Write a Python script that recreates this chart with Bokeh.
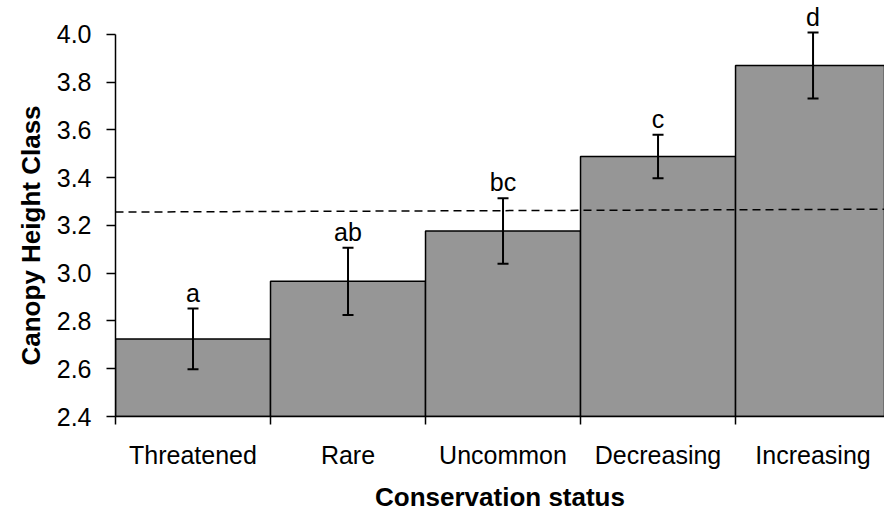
from bokeh.plotting import figure
from bokeh.models import (ColumnDataSource, FixedTicker, Range1d, Whisker, TeeHead,
                          PrintfTickFormatter, Title)
from bokeh.core.properties import value
from bokeh.embed import file_html
from bokeh.resources import INLINE

# Mean canopy height class by conservation status (with standard errors)
categories = ["Threatened", "Rare", "Uncommon", "Decreasing", "Increasing"]
means = [2.725, 2.966, 3.177, 3.489, 3.870]
errors = [0.127, 0.141, 0.137, 0.091, 0.138]
letters = ["a", "ab", "bc", "c", "d"]
overall_mean = [3.256, 3.268]          # dashed reference line, left and right ends
y_ticks = [2.4, 2.6, 2.8, 3.0, 3.2, 3.4, 3.6, 3.8, 4.0]

FONT = "Liberation Sans"

centers = [i + 0.5 for i in range(len(categories))]
edges = list(range(len(categories) + 1))
x_end = 4.961

src = ColumnDataSource(dict(
    x=centers,
    top=means,
    upper=[m + e for m, e in zip(means, errors)],
    lower=[m - e for m, e in zip(means, errors)],
    letter=letters,
))

p = figure(width=884, height=514, output_backend="svg", toolbar_location=None,
           x_range=Range1d(0, x_end), y_range=Range1d(2.4, 4.142),
           min_border_left=115, min_border_right=0, min_border_top=0,
           min_border_bottom=98)
p.outline_line_color = None
p.xgrid.visible = False
p.ygrid.visible = False
p.background_fill_color = "white"

p.vbar(x="x", top="top", bottom=2.4, width=1.0, source=src,
       fill_color="#969696", line_color="black", line_width=1.5)

p.line(x=[0, x_end], y=overall_mean, line_color="black", line_width=1.5,
       line_dash="8 5")

whisker = Whisker(source=src, base="x", upper="upper", lower="lower",
                  dimension="height", line_color="black", line_width=2,
                  upper_head=TeeHead(size=11, line_width=2, line_color="black"),
                  lower_head=TeeHead(size=11, line_width=2, line_color="black"),
                  level="overlay")
p.add_layout(whisker)

p.text(x="x", y="upper", text="letter", source=src, y_offset=-2,
       text_align="center", text_baseline="bottom",
       text_font=value(FONT), text_font_size="25px", text_color="black")

# x axis: category names centred, tick marks at the bar boundaries
xa = p.xaxis[0]
xa.ticker = FixedTicker(ticks=centers, minor_ticks=edges)
xa.major_label_overrides = {c: name for c, name in zip(centers, categories)}
xa.major_tick_out = 0
xa.major_tick_in = 0
xa.minor_tick_out = 8
xa.minor_tick_in = 0
xa.minor_tick_line_color = "black"
xa.minor_tick_line_width = 1.5
xa.axis_line_width = 1.5
xa.major_label_text_font = FONT
xa.major_label_text_font_size = "25px"
xa.major_label_text_color = "black"
xa.major_label_standoff = 16
xa.axis_label = "Conservation status"
xa.axis_label_text_font = FONT
xa.axis_label_text_font_size = "26px"
xa.axis_label_text_font_style = "bold"
xa.axis_label_text_color = "black"
xa.axis_label_standoff = 10

ya = p.yaxis[0]
ya.ticker = FixedTicker(ticks=y_ticks)
ya.formatter = PrintfTickFormatter(format="%.1f")
ya.bounds = (2.4, 4.0)
ya.major_tick_out = 9
ya.major_tick_in = 0
ya.minor_tick_out = 0
ya.minor_tick_in = 0
ya.major_tick_line_width = 1.5
ya.axis_line_width = 1.5
ya.major_label_text_font = FONT
ya.major_label_text_font_size = "25px"
ya.major_label_text_color = "black"
ya.major_label_standoff = 15

# y title, placed along the labelled span of the axis
p.add_layout(Title(text="Canopy Height Class", align="left", offset=51,
                   text_font=FONT, text_font_size="26px", text_font_style="bold",
                   text_color="black", standoff=16), "left")

open("out.html", "w").write(file_html(p, INLINE))
